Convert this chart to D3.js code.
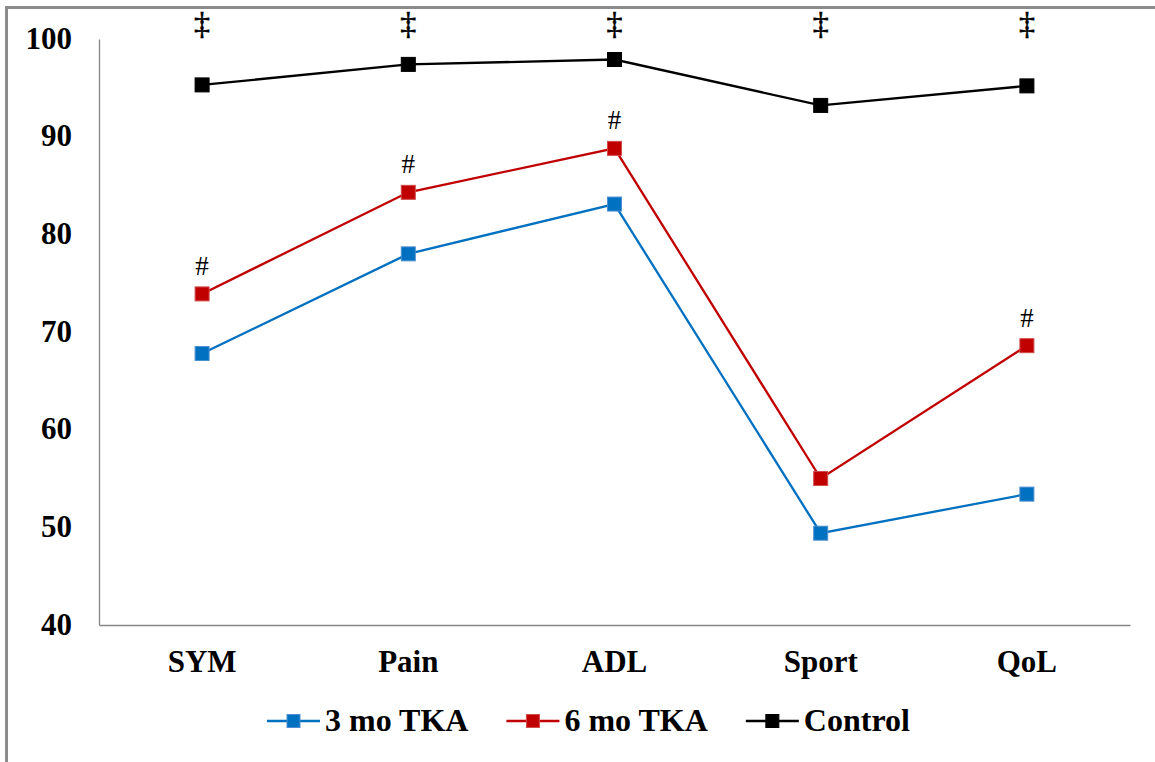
<!DOCTYPE html>
<html>
<head>
<meta charset="utf-8">
<script src="https://cdn.jsdelivr.net/npm/d3@7/dist/d3.min.js"></script>
<style>
  body { margin: 0; background: #fff; }
  svg { display: block; }
  text { font-family: "Liberation Serif", "Times New Roman", serif; }
</style>
</head>
<body>
<div id="vizcont"></div>
<script>
// chart data
var categories = ["SYM", "Pain", "ADL", "Sport", "QoL"];
var yTicks = [40, 50, 60, 70, 80, 90, 100];
var seriesNames = ["3 mo TKA", "6 mo TKA", "Control"];
var threeMonth = [67.8, 78.0, 83.1, 49.4, 53.4];
var sixMonth = [73.9, 84.3, 88.8, 55.0, 68.6];
var control = [95.3, 97.4, 97.9, 93.2, 95.2];
var hashMarks = [true, true, true, false, true];   // "#" over 6 mo TKA
var daggerMarks = [true, true, true, true, true];  // "‡" over Control

function draw_chart() {
  var width = 1155, height = 762;
  var margin = {top: 39, right: 25, bottom: 137, left: 99};
  var colors = ["#0070c0", "#c00000", "#000000"];
  var strokes = ["#4d8fd0", "#d24a4a", "#000000"];
  var allSeries = [threeMonth, sixMonth, control];

  var svg = d3.select("#vizcont")
    .append("svg")
    .attr("width", width)
    .attr("height", height);

  // outer frame (only left and top edges are inside the window)
  svg.append("rect")
    .attr("x", 6.5).attr("y", 7.5)
    .attr("width", 1300).attr("height", 900)
    .attr("fill", "none")
    .attr("stroke", "#8c8c8c")
    .attr("stroke-width", 3);

  var x = d3.scaleBand()
    .domain(categories)
    .range([margin.left, width - margin.right]);

  var y = d3.scaleLinear()
    .domain([40, 100])
    .range([height - margin.bottom, margin.top]);

  // y axis
  var yAxis = svg.append("g")
    .attr("transform", "translate(" + margin.left + ",0)")
    .call(d3.axisLeft(y).tickValues(yTicks).tickSize(0).tickPadding(27));
  yAxis.select(".domain").attr("stroke", "#868686").attr("stroke-width", 1.3);
  yAxis.selectAll("text")
    .attr("font-family", "Liberation Serif")
    .attr("font-weight", "bold")
    .attr("font-size", 31)
    .attr("fill", "#000")
    .attr("dy", "0.3em");

  // x axis
  var xAxis = svg.append("g")
    .attr("transform", "translate(0," + y(40) + ")")
    .call(d3.axisBottom(x).tickSize(0).tickPadding(0));
  xAxis.select(".domain").attr("stroke", "#868686").attr("stroke-width", 1.3);
  xAxis.selectAll("text")
    .attr("font-family", "Liberation Serif")
    .attr("font-weight", "bold")
    .attr("font-size", 31)
    .attr("fill", "#000")
    .attr("y", 47)
    .attr("dy", 0);

  var cx = function(d, i) { return x(categories[i]) + x.bandwidth() / 2; };

  var line = d3.line()
    .x(cx)
    .y(function(d) { return y(d); });

  allSeries.forEach(function(vals, s) {
    svg.append("path")
      .datum(vals)
      .attr("d", line)
      .attr("fill", "none")
      .attr("stroke", colors[s])
      .attr("stroke-width", 2.3);

    svg.selectAll("rect.m" + s)
      .data(vals)
      .enter()
      .append("rect")
      .attr("class", "m" + s)
      .attr("x", function(d, i) { return cx(d, i) - 7; })
      .attr("y", function(d) { return y(d) - 7; })
      .attr("width", 14)
      .attr("height", 14)
      .attr("fill", colors[s])
      .attr("stroke", strokes[s])
      .attr("stroke-width", 1);
  });

  // significance marks
  svg.selectAll("text.hash")
    .data(sixMonth)
    .enter()
    .filter(function(d, i) { return hashMarks[i]; })
    .append("text")
    .attr("class", "hash")
    .attr("x", function(d) { return x(categories[sixMonth.indexOf(d)]) + x.bandwidth() / 2; })
    .attr("y", function(d) { return y(d) - 19; })
    .attr("text-anchor", "middle")
    .attr("font-size", 27)
    .text("#");

  svg.selectAll("text.dagger")
    .data(control)
    .enter()
    .filter(function(d, i) { return daggerMarks[i]; })
    .append("text")
    .attr("class", "dagger")
    .attr("x", function(d) { return x(categories[control.indexOf(d)]) + x.bandwidth() / 2; })
    .attr("y", margin.top - 5)
    .attr("text-anchor", "middle")
    .attr("font-size", 32)
    .attr("stroke", "#000")
    .attr("stroke-width", 0.6)
    .text("\u2021");

  // legend
  var legY = 721;
  var lx = 267;
  seriesNames.forEach(function(name, s) {
    var g = svg.append("g");
    g.append("line")
      .attr("x1", lx).attr("x2", lx + 53)
      .attr("y1", legY).attr("y2", legY)
      .attr("stroke", colors[s])
      .attr("stroke-width", 2.3);
    g.append("rect")
      .attr("x", lx + 26.5 - 6.5).attr("y", legY - 6.5)
      .attr("width", 13).attr("height", 13)
      .attr("fill", colors[s])
      .attr("stroke", strokes[s]);
    var t = g.append("text")
      .attr("x", lx + 58)
      .attr("y", legY + 10)
      .attr("font-weight", "bold")
      .attr("font-size", 32)
      .text(name);
    lx = lx + 58 + t.node().getComputedTextLength() + 38;
  });
}

draw_chart();
</script>
</body>
</html>
